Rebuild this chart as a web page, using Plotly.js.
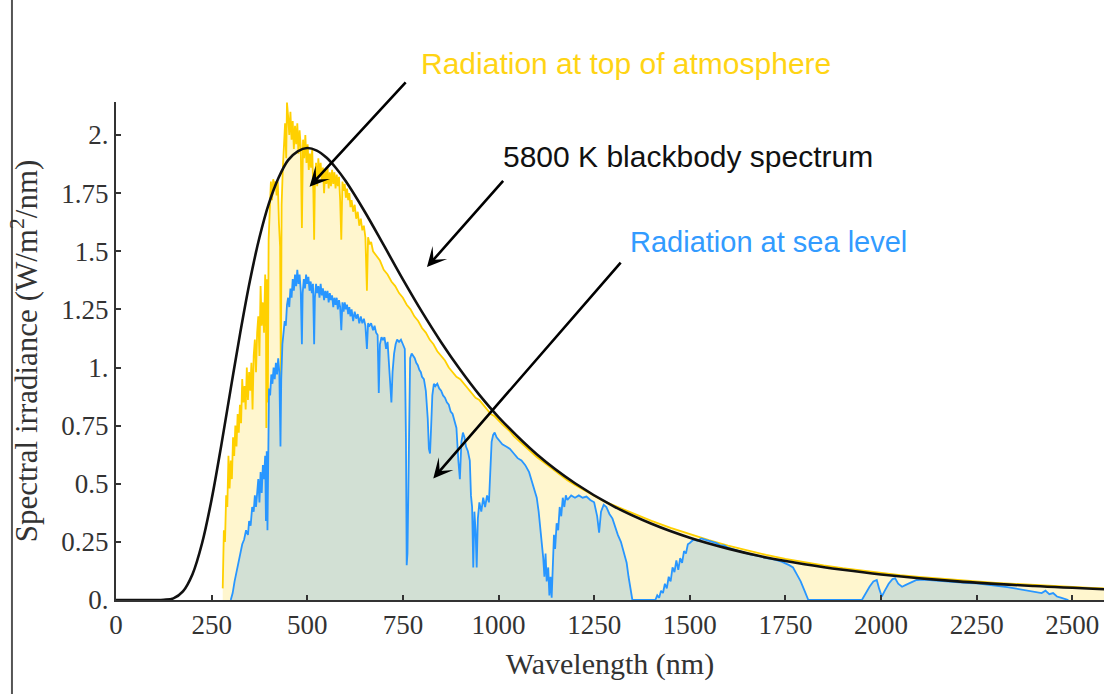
<!DOCTYPE html>
<html>
<head>
<meta charset="utf-8">
<script src="https://cdn.plot.ly/plotly-3.0.1.min.js"></script>
<style>
  html, body { margin: 0; padding: 0; background: #ffffff; }
  #chart { width: 1104px; height: 694px; }
</style>
</head>
<body>
<div id="chart"></div>
<script>
// ---------- Data ----------
// Radiation at top of atmosphere (W/m^2/nm)
const toaNm = [
  279,282,285,288,291,294,297,300,303,306,309,312,315,318,321,324,327,330,333,336,339,342,345,348,351,354,357,360,
  363,366,369,372,375,378,381,384,387,390,392,393,395,397,399,402,405,408,411,414,417,420,423,426,429,431,433,436,
  439,442,445,447,450,453,456,459,462,465,468,471,474,477,480,483,486,489,492,495,498,501,504,507,510,513,516,518,
  520,523,526,529,532,535,538,541,544,547,550,553,556,559,562,565,568,571,574,577,580,583,586,589,592,595,598,601,
  604,607,610,613,616,620,624,628,632,636,640,644,648,652,656,659,663,667,672,680,690,700,710,720,730,740,750,760,
  770,780,790,800,810,820,830,840,850,860,870,880,890,900,910,920,930,940,950,960,970,980,990,1000,1010,1020,1030,
  1040,1050,1060,1070,1080,1090,1100,1120,1140,1160,1180,1200,1225,1250,1275,1300,1325,1350,1400,1450,1500,1550,
  1600,1650,1700,1750,1800,1850,1900,1950,2000,2050,2100,2150,2200,2250,2300,2350,2400,2450,2500,2550,2600
];
const toaVal = [
  0.05,0.30,0.25,0.45,0.40,0.62,0.48,0.60,0.52,0.70,0.62,0.75,0.66,0.80,0.72,0.84,0.76,0.95,0.85,0.92,0.82,1.00,0.86,0.98,0.90,1.02,0.82,1.05,
  1.12,0.98,1.15,1.22,1.05,1.35,1.18,1.28,1.15,1.40,1.25,0.74,1.38,0.85,1.55,1.72,1.80,1.72,1.81,1.78,1.80,1.74,1.80,1.62,1.52,0.95,1.70,1.85,
  1.95,2.05,1.90,2.14,2.08,2.00,2.10,1.98,2.06,1.94,2.04,1.96,2.05,1.92,2.02,1.95,1.60,1.98,1.90,2.00,1.88,1.96,1.85,1.92,1.86,1.94,1.75,1.55,
  1.80,1.88,1.78,1.90,1.82,1.88,1.80,1.86,1.75,1.85,1.79,1.86,1.77,1.84,1.78,1.85,1.79,1.84,1.77,1.83,1.78,1.82,1.72,1.55,1.80,1.76,1.79,1.73,
  1.77,1.72,1.75,1.69,1.72,1.67,1.70,1.64,1.67,1.61,1.64,1.59,1.61,1.56,1.33,1.56,1.53,1.54,1.50,1.48,1.46,1.42,1.40,1.37,1.35,1.32,1.30,1.27,
  1.25,1.22,1.20,1.17,1.15,1.12,1.10,1.07,1.05,1.03,1.00,0.98,0.96,0.95,0.93,0.91,0.89,0.87,0.86,0.84,0.82,0.80,0.79,0.77,0.755,0.74,0.725,
  0.705,0.69,0.675,0.66,0.645,0.63,0.615,0.59,0.565,0.54,0.515,0.495,0.47,0.448,0.425,0.408,0.39,0.372,0.34,0.31,0.283,0.258,
  0.234,0.213,0.194,0.177,0.162,0.149,0.137,0.126,0.116,0.107,0.099,0.092,0.085,0.079,0.074,0.069,0.064,0.060,0.056,0.052,0.048
];

// Radiation at sea level (W/m^2/nm)
const seaNm = [
  300,305,310,315,320,325,330,335,340,345,348,352,356,360,363,366,369,372,375,378,381,384,387,390,392,394,396,398,
  400,403,406,409,412,415,418,421,424,427,430,432,435,438,441,444,447,450,453,456,459,462,465,468,471,474,477,480,
  483,486,488,491,494,497,500,503,506,509,512,515,518,520,523,526,529,532,535,538,541,544,547,550,553,556,559,562,
  565,568,571,574,577,580,583,586,589,592,595,598,601,604,607,610,613,616,620,624,628,632,636,640,644,648,652,656,
  659,663,667,672,676,680,684,687,690,694,698,702,706,710,714,717,720,723,727,731,735,740,745,750,755,758,760,762,
  764,766,769,773,777,781,785,789,793,797,800,805,810,815,818,821,824,827,831,835,840,845,850,855,860,865,870,875,
  880,885,890,895,899,903,907,911,915,920,925,928,931,934,937,940,943,946,950,955,960,965,970,975,979,982,986,990,
  995,1000,1010,1020,1030,1040,1050,1060,1070,1080,1090,1100,1105,1110,1113,1117,1120,1123,1126,1130,1133,1136,1139,
  1142,1145,1148,1152,1156,1160,1164,1168,1172,1176,1180,1190,1200,1210,1220,1230,1240,1250,1258,1263,1268,1275,1282,
  1290,1298,1305,1312,1320,1328,1335,1340,1345,1350,1410,1415,1420,1425,1430,1435,1440,1445,1450,1455,1460,1465,1470,
  1475,1480,1485,1490,1495,1500,1510,1520,1530,1540,1550,1560,1570,1580,1590,1600,1620,1640,1660,1680,1700,1720,1740,
  1760,1770,1780,1790,1800,1810,1950,1960,1970,1980,1989,1995,2002,2010,2020,2030,2037,2045,2055,2065,2076,2085,2093,
  2110,2130,2150,2170,2190,2210,2230,2250,2270,2290,2310,2330,2350,2370,2390,2410,2420,2430,2440,2450,2460,2470,2480,2490
];
const seaVal = [
  0.00,0.03,0.08,0.12,0.17,0.21,0.24,0.26,0.30,0.28,0.34,0.32,0.40,0.38,0.45,0.40,0.48,0.52,0.42,0.55,0.46,0.58,0.52,0.62,0.34,0.64,0.30,0.80,
  0.91,0.88,0.97,0.93,1.00,0.95,1.02,0.97,1.04,0.98,0.66,0.95,1.10,1.15,1.20,1.18,1.27,1.30,1.26,1.34,1.30,1.38,1.33,1.40,1.35,1.42,1.36,1.40,
  1.33,1.10,1.32,1.38,1.34,1.40,1.36,1.39,1.33,1.37,1.32,1.36,1.10,1.30,1.36,1.32,1.35,1.30,1.36,1.31,1.34,1.29,1.33,1.30,1.33,1.28,1.32,1.29,
  1.31,1.26,1.30,1.27,1.30,1.25,1.29,1.26,1.16,1.28,1.24,1.28,1.25,1.27,1.23,1.26,1.22,1.25,1.20,1.24,1.21,1.23,1.19,1.22,1.19,1.21,1.18,1.08,
  1.19,1.18,1.19,1.16,1.18,1.15,1.14,0.89,1.10,1.13,1.12,1.13,1.08,1.11,1.02,0.92,0.85,0.98,1.06,1.10,1.12,1.11,1.12,1.10,1.08,0.70,0.15,0.20,
  0.45,0.90,1.04,1.06,1.05,1.04,1.02,1.01,0.99,0.98,0.96,0.95,0.90,0.78,0.65,0.63,0.75,0.88,0.93,0.92,0.93,0.91,0.90,0.88,0.87,0.85,0.84,0.81,
  0.80,0.77,0.74,0.60,0.52,0.68,0.72,0.70,0.66,0.64,0.60,0.45,0.40,0.14,0.38,0.30,0.14,0.35,0.42,0.38,0.44,0.40,0.45,0.42,0.55,0.68,0.71,0.72,
  0.70,0.69,0.67,0.66,0.65,0.63,0.61,0.60,0.58,0.55,0.50,0.44,0.38,0.30,0.26,0.18,0.10,0.20,0.08,0.14,0.02,0.10,0.01,
  0.18,0.28,0.22,0.33,0.30,0.40,0.36,0.44,0.40,0.45,0.43,0.45,0.44,0.45,0.44,0.445,0.43,0.42,0.36,0.29,0.38,0.41,0.40,
  0.37,0.35,0.31,0.28,0.25,0.20,0.16,0.10,0.04,0.00,0.00,0.02,0.01,0.04,0.03,0.07,0.05,0.10,0.08,0.14,0.12,0.17,0.13,
  0.18,0.16,0.21,0.20,0.24,0.245,0.26,0.255,0.265,0.26,0.255,0.25,0.245,0.235,0.235,0.225,0.215,0.205,0.195,0.19,0.18,0.175,0.165,
  0.15,0.14,0.11,0.08,0.04,0.00,0.00,0.03,0.057,0.08,0.086,0.05,0.015,0.04,0.07,0.09,0.093,0.07,0.057,0.065,0.072,0.08,0.086,
  0.088,0.085,0.083,0.080,0.078,0.076,0.073,0.072,0.068,0.066,0.060,0.055,0.050,0.045,0.040,0.035,0.030,0.040,0.025,0.030,0.015,0.010,0.005,0.000
];

// 5800 K blackbody spectrum (scaled)
const bbNm  = [0,50,100,125,150,175,200,225,250,275,300,325,350,375,400,425,450,475,500,525,550,575,600,650,700,750,800,850,900,950,1000,1100,1200,1300,1400,1500,1600,1700,1800,1900,2000,2200,2400,2600];
const bbVal = [0,0,0,0.001,0.007,0.037,0.111,0.244,0.433,0.663,0.909,1.151,1.372,1.559,1.707,1.816,1.892,1.930,1.944,1.933,1.903,1.858,1.803,1.671,1.526,1.379,1.239,1.109,0.990,0.882,0.787,0.627,0.502,0.404,0.328,0.268,0.221,0.183,0.154,0.130,0.110,0.080,0.060,0.045];

// Tick labels
const xTickVals = [0,250,500,750,1000,1250,1500,1750,2000,2250,2500];
const xTickText = ['0','250','500','750','1000','1250','1500','1750','2000','2250','2500'];
const yTickVals = [0,0.25,0.5,0.75,1,1.25,1.5,1.75,2];
const yTickText = ['0.','0.25','0.5','0.75','1.','1.25','1.5','1.75','2.'];

// Label texts
const labelTop = 'Radiation at top of atmosphere';
const labelBB  = '5800 K blackbody spectrum';
const labelSea = 'Radiation at sea level';

// ---------- Styles ----------
const GOLD = 'rgb(255,208,0)';
const GOLD_TEXT = 'rgb(255,212,20)';
const BLUE = 'rgb(40,150,255)';
const BLUE_TEXT = 'rgb(50,155,255)';
const YELLOW_FILL = 'rgb(255,246,206)';
const GREEN_FILL = 'rgb(210,224,212)';
const AXIS = '#333333';
const SERIF = '"Liberation Serif", "Times New Roman", serif';
const SANS = '"Liberation Sans", Arial, Helvetica, sans-serif';

const traces = [
  {
    x: toaNm, y: toaVal, type: 'scatter', mode: 'lines',
    fill: 'tozeroy', fillcolor: YELLOW_FILL,
    line: {color: GOLD, width: 1.8},
    hoverinfo: 'skip', showlegend: false
  },
  {
    x: seaNm, y: seaVal, type: 'scatter', mode: 'lines',
    fill: 'tozeroy', fillcolor: GREEN_FILL,
    line: {color: BLUE, width: 1.8},
    hoverinfo: 'skip', showlegend: false
  },
  {
    x: bbNm, y: bbVal, type: 'scatter', mode: 'lines',
    line: {color: '#111111', width: 2.6, shape: 'spline', smoothing: 1},
    hoverinfo: 'skip', showlegend: false
  }
];

const arrowCommon = {
  xref: 'x', yref: 'y', axref: 'pixel', ayref: 'pixel',
  text: '', showarrow: true, arrowhead: 3, arrowsize: 1.25,
  arrowwidth: 2.6, arrowcolor: '#000000', standoff: 0
};

const layout = {
  width: 1104, height: 694,
  margin: {l: 116, r: 0, t: 102, b: 94, pad: 0},
  paper_bgcolor: '#ffffff', plot_bgcolor: '#ffffff',
  showlegend: false,
  xaxis: {
    range: [0, 2583], showgrid: false, zeroline: false,
    showline: true, linecolor: AXIS, linewidth: 2,
    ticks: 'inside', ticklen: 5, tickwidth: 2, tickcolor: AXIS,
    tickvals: xTickVals, ticktext: xTickText,
    tickfont: {family: SERIF, size: 27, color: '#333333'},
    title: {text: 'Wavelength (nm)', font: {family: SERIF, size: 30, color: '#333333'}, standoff: 14},
    fixedrange: true
  },
  yaxis: {
    range: [0, 2.142], showgrid: false, zeroline: false,
    showline: true, linecolor: AXIS, linewidth: 2,
    ticks: 'inside', ticklen: 5, tickwidth: 2, tickcolor: AXIS,
    tickvals: yTickVals, ticktext: yTickText,
    tickfont: {family: SERIF, size: 27, color: '#333333'},
    title: {text: 'Spectral irradiance (W/m<sup>2</sup>/nm)', font: {family: SERIF, size: 31, color: '#333333'}, standoff: 14},
    fixedrange: true
  },
  shapes: [
    {type: 'line', xref: 'paper', yref: 'paper', x0: -0.1053, x1: -0.1053, y0: -0.2, y1: 1.22,
     line: {color: '#555555', width: 2}}
  ],
  annotations: [
    {xref: 'paper', yref: 'paper', x: 0.3067, y: 1.078, xanchor: 'left', yanchor: 'middle',
     text: labelTop, showarrow: false, font: {family: SANS, size: 30, color: GOLD_TEXT}},
    {xref: 'paper', yref: 'paper', x: 0.3895, y: 0.8900, xanchor: 'left', yanchor: 'middle',
     text: labelBB, showarrow: false, font: {family: SANS, size: 30, color: '#111111'}},
    {xref: 'paper', yref: 'paper', x: 0.5178, y: 0.7190, xanchor: 'left', yanchor: 'middle',
     text: labelSea, showarrow: false, font: {family: SANS, size: 29, color: BLUE_TEXT}},
    Object.assign({}, arrowCommon, {x: 506, y: 1.778, ax: 97.5, ay: -105.7}),
    Object.assign({}, arrowCommon, {x: 813, y: 1.432, ax: 77.5, ay: -87.7}),
    Object.assign({}, arrowCommon, {x: 829.5, y: 0.523, ax: 188.7, ay: -217.3})
  ]
};

Plotly.newPlot('chart', traces, layout, {staticPlot: true, displayModeBar: false});
</script>
</body>
</html>
